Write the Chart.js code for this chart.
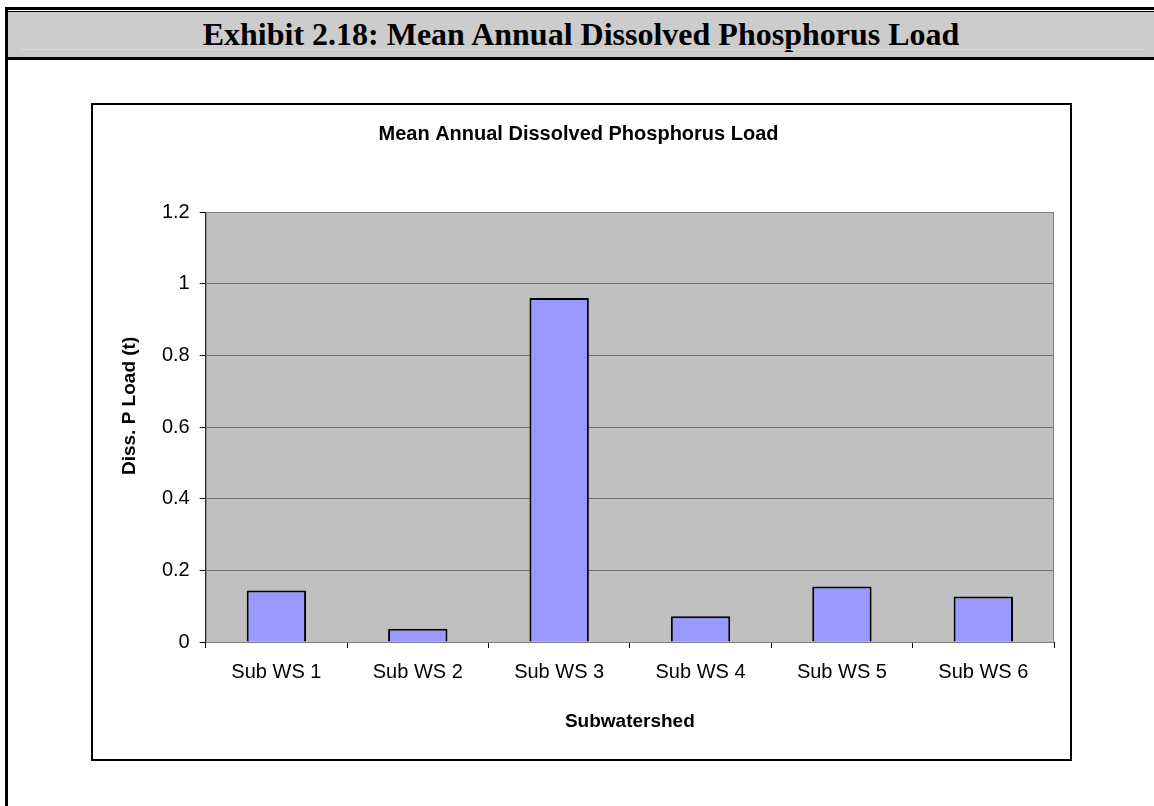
<!DOCTYPE html>
<html>
<head>
<meta charset="utf-8">
<script src="https://cdn.jsdelivr.net/npm/chart.js@4/dist/chart.umd.min.js"></script>
<style>
  html, body { margin: 0; padding: 0; background: #fff; }
  body { width: 1154px; height: 806px; position: relative; overflow: hidden; }
  #leftBorder { position: absolute; left: 5px; top: 7px; width: 3px; height: 800px; background: #000; }
  #topLine { position: absolute; left: 5px; top: 7px; width: 1149px; height: 3px; background: #000; }
  #thinLine { position: absolute; left: 5px; top: 11px; width: 1149px; height: 1px; background: #000; }
  #header { position: absolute; left: 8px; top: 12px; width: 1146px; height: 45px; background: #cccccc;
            font-family: "Liberation Serif", "Times New Roman", serif; font-weight: bold; font-size: 32px;
            color: #000; text-align: center; line-height: 45px; }
  #headHi { position: absolute; left: 20px; top: 49px; width: 1126px; height: 1px; background: #d9d9d9; }
  #bottomLine { position: absolute; left: 5px; top: 57px; width: 1149px; height: 3px; background: #000; }
  #box { position: absolute; left: 91px; top: 103px; width: 977px; height: 654px; border: 2px solid #000; background: #fff; }
  #chart { position: absolute; left: 93px; top: 105px; }
</style>
</head>
<body>
<div id="leftBorder"></div>
<div id="topLine"></div>
<div id="thinLine"></div>
<div id="header">Exhibit 2.18: Mean Annual Dissolved Phosphorus Load</div>
<div id="headHi"></div>
<div id="bottomLine"></div>
<div id="box"></div>
<canvas id="chart" width="977" height="654"></canvas>
<script>
const categories = ["Sub WS 1", "Sub WS 2", "Sub WS 3", "Sub WS 4", "Sub WS 5", "Sub WS 6"];
const loadValues = [0.144, 0.037, 0.96, 0.072, 0.155, 0.127];
const yTickValues = [0, 0.2, 0.4, 0.6, 0.8, 1, 1.2];
const yTickLabels = ["0", "0.2", "0.4", "0.6", "0.8", "1", "1.2"];
const chartTitle = "Mean Annual Dissolved Phosphorus Load";
const yAxisTitle = "Diss. P Load (t)";
const xAxisTitle = "Subwatershed";

const FONT = '"Liberation Sans", Arial, sans-serif';
Chart.defaults.color = '#000';
Chart.defaults.font.family = FONT;

const plotFrame = {
  id: 'plotFrame',
  beforeDraw(chart) {
    const {ctx, chartArea: a} = chart;
    ctx.save();
    ctx.fillStyle = '#c0c0c0';
    ctx.fillRect(a.left, a.top, a.right - a.left, a.bottom - a.top);
    ctx.restore();
  },
  beforeDatasetsDraw(chart) {
    const {ctx, chartArea: a} = chart;
    ctx.save();
    ctx.strokeStyle = '#808080';
    ctx.lineWidth = 1;
    ctx.strokeRect(a.left + 0.5, a.top + 0.5, a.right - a.left - 1, a.bottom - a.top);
    ctx.restore();
  }
};

// leading spaces move the rotated y title slightly upward, as in the original
const yTitlePad = ' '.repeat(8);

new Chart(document.getElementById('chart'), {
  type: 'bar',
  data: {
    labels: categories,
    datasets: [{
      data: loadValues,
      backgroundColor: '#9999ff',
      borderColor: '#000',
      borderWidth: 2,
      categoryPercentage: 1.0,
      barPercentage: 0.42
    }]
  },
  options: {
    responsive: false,
    animation: false,
    devicePixelRatio: 1,
    layout: { padding: { left: 10, right: 16, top: 0, bottom: 0 } },
    plugins: {
      legend: { display: false },
      tooltip: { enabled: false },
      title: {
        display: true,
        text: chartTitle,
        color: '#000',
        font: { family: FONT, size: 20, weight: 'bold' },
        padding: { top: 17, bottom: 66 }
      }
    },
    scales: {
      x: {
        offset: true,
        grid: { display: true, drawOnChartArea: false, offset: true, tickLength: 6, tickColor: '#000', color: '#000' },
        border: { display: true, color: '#000', width: 1 },
        ticks: { color: '#000', font: { family: FONT, size: 20 }, padding: 12, maxRotation: 0, autoSkip: false },
        title: { display: true, text: xAxisTitle, color: '#000', font: { family: FONT, size: 19, weight: 'bold' }, padding: { top: 0, bottom: 26 } },
        afterFit(scale) { scale.height = 117; }
      },
      y: {
        min: 0,
        max: 1.2,
        afterBuildTicks(scale) { scale.ticks = yTickValues.map(v => ({ value: v })); },
        grid: { color: '#6e6e6e', tickLength: 6, tickColor: '#000', lineWidth: 1 },
        border: { display: true, color: '#000', width: 1 },
        ticks: {
          color: '#000',
          font: { family: FONT, size: 20 },
          padding: 10,
          callback(value, index) { return yTickLabels[index]; }
        },
        title: { display: true, text: yTitlePad + yAxisTitle, color: '#000', font: { family: FONT, size: 19, weight: 'bold' }, padding: { top: 15, bottom: 0 } },
        afterFit(scale) { scale.width = 102.7; }
      }
    }
  },
  plugins: [plotFrame]
});
</script>
</body>
</html>
